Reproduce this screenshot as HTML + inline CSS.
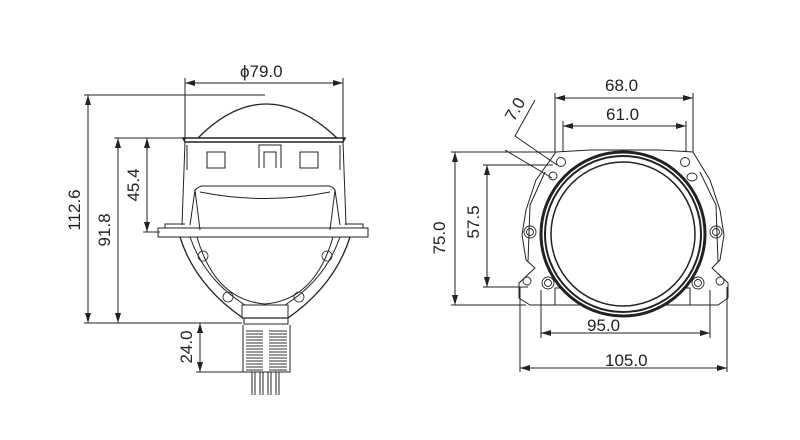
<!DOCTYPE html>
<html><head><meta charset="utf-8"><style>
html,body{margin:0;padding:0;background:#fff;}
svg{display:block;}
text{font-family:"Liberation Sans",sans-serif;font-size:17px;fill:#222;}
</style></head><body>
<svg width="800" height="440" viewBox="0 0 800 440" xmlns="http://www.w3.org/2000/svg">
<defs>
<marker id="a" markerWidth="10" markerHeight="6" refX="10" refY="3" orient="auto-start-reverse" markerUnits="userSpaceOnUse"><path d="M0,0 L10,3 L0,6 z" fill="#222"/></marker>
</defs>
<g stroke="#222" stroke-width="1" fill="none">
<line x1="185" y1="83" x2="343" y2="83" marker-start="url(#a)" marker-end="url(#a)"/>
<line x1="185" y1="78" x2="185" y2="140"/><line x1="343" y1="78" x2="343" y2="140"/>
<line x1="84" y1="95" x2="265" y2="95"/>
<line x1="88" y1="95" x2="88" y2="323" marker-start="url(#a)" marker-end="url(#a)"/>
<line x1="84" y1="323" x2="242" y2="323"/>
<line x1="114" y1="138" x2="185" y2="138"/>
<line x1="118" y1="138" x2="118" y2="323" marker-start="url(#a)" marker-end="url(#a)"/>
<line x1="147" y1="138" x2="147" y2="232" marker-start="url(#a)" marker-end="url(#a)"/>
<line x1="143" y1="232" x2="160" y2="232"/>
<line x1="200" y1="323" x2="200" y2="372" marker-start="url(#a)" marker-end="url(#a)"/>
<line x1="196" y1="372" x2="243" y2="372"/>
<path d="M198,138 Q265,70 337,138" stroke-width="1.3"/>
<path d="M183,138 L345,138 L343,142 L185,142 Z" stroke-width="1.6"/>
<path d="M185,142 L182,225 M343,142 L346,225"/>
<path d="M187,145 L187,170 M340,145 L340,170"/>
<rect x="207" y="152" width="18" height="16"/><rect x="300" y="152" width="18" height="16"/>
<path d="M259,168 L259,145 L281,145 L281,168 M264,168 L264,152 L276,152 L276,168"/>
<path d="M190,225 L195,190 Q200,185 205,186 L325,186 Q332,185 335,190 L340,225"/>
<path d="M200,192 Q265,205 330,192"/>
<path d="M195,190 L200,230 M335,190 L330,230"/>
<rect x="158" y="228" width="210" height="9"/>
<path d="M165,228 L165,224 L185,224 M363,228 L363,224 L345,224"/>
<path d="M180,237 Q195,285 243,318 L288,318 Q335,285 350,237" stroke-width="1.3"/>
<path d="M190,237 Q205,280 245,305 M340,237 Q325,280 285,305"/>
<path d="M197,237 Q215,300 265,304 Q315,300 333,237"/>
<rect x="242" y="305" width="46" height="13"/>
<rect x="244" y="318" width="44" height="6"/>
<g stroke-width="0.8">
<circle cx="203" cy="256" r="5"/><circle cx="327" cy="256" r="5"/>
<circle cx="228" cy="297" r="5"/><circle cx="299" cy="297" r="5"/>
</g>
<path d="M243,325 L243,372 L290,372 L290,325" />
<g stroke-width="1.1" stroke="#333">
<path d="M246,331 H263 M246,334 H263 M246,337 H263 M246,340 H263 M246,343 H263 M246,346 H263 M246,349 H263 M246,352 H263 M246,355 H263 M246,358 H263 M246,361 H263 M246,364 H263 M246,367 H263 M246,370 H263"/>
<path d="M269,331 H287 M269,334 H287 M269,337 H287 M269,340 H287 M269,343 H287 M269,346 H287 M269,349 H287 M269,352 H287 M269,355 H287 M269,358 H287 M269,361 H287 M269,364 H287 M269,367 H287 M269,370 H287"/>
</g>
<path d="M252,372 V395 M255,372 V395 M260,372 V395 M263,372 V395 M268,372 V395 M271,372 V395 M276,372 V395 M279,372 V395"/>
<line x1="555" y1="98" x2="693" y2="98" marker-start="url(#a)" marker-end="url(#a)"/>
<line x1="555" y1="93" x2="555" y2="152"/><line x1="693" y1="93" x2="693" y2="152"/>
<line x1="563" y1="126" x2="686" y2="126" marker-start="url(#a)" marker-end="url(#a)"/>
<line x1="563" y1="121" x2="563" y2="152"/><line x1="686" y1="121" x2="686" y2="152"/>
<line x1="451" y1="152" x2="555" y2="152"/>
<line x1="455" y1="152" x2="455" y2="305" marker-start="url(#a)" marker-end="url(#a)"/>
<line x1="451" y1="305" x2="526" y2="305"/>
<line x1="483" y1="165" x2="553" y2="165"/>
<line x1="487" y1="165" x2="487" y2="287" marker-start="url(#a)" marker-end="url(#a)"/>
<line x1="483" y1="287" x2="528" y2="287"/>
<line x1="520" y1="287" x2="520" y2="372"/><line x1="727" y1="287" x2="727" y2="372"/>
<line x1="520" y1="368" x2="727" y2="368" marker-start="url(#a)" marker-end="url(#a)"/>
<line x1="541" y1="290" x2="541" y2="338"/><line x1="710" y1="290" x2="710" y2="338"/>
<line x1="541" y1="333" x2="710" y2="333" marker-start="url(#a)" marker-end="url(#a)"/>
<path d="M535,100 L515,136 L557,165 M505,150 L552,178"/>
<path d="M556,152 L590,150 L660,150 L693,152 L710,180 L720,210 L724,235 L720,260 L712,268 L728,283 L728,298 L718,305 L530,305 L519,298 L519,283 L535,268 L526,260 L522,235 L526,210 L536,180 Z"/>
<path d="M545,172 L530,205 L528,262 M700,172 L716,205 L718,262"/>
<rect x="555" y="288" width="135" height="17"/>
<circle cx="623" cy="234" r="82" fill="#fff" stroke-width="3"/>
<circle cx="623" cy="234" r="78" stroke-width="2"/>
<circle cx="623" cy="234" r="72" stroke-width="1.5"/>
<g stroke-width="0.9">
<circle cx="561" cy="162" r="4.5"/><circle cx="685" cy="162" r="4.5"/>
<circle cx="553" cy="176" r="4"/><ellipse cx="692" cy="177" rx="5" ry="4"/>
<circle cx="530" cy="232" r="6"/><circle cx="530" cy="232" r="3.5"/>
<circle cx="716" cy="232" r="6"/><circle cx="716" cy="232" r="3.5"/>
<circle cx="548" cy="283" r="6"/><circle cx="548" cy="283" r="3.5"/>
<circle cx="698" cy="283" r="6"/><circle cx="698" cy="283" r="3.5"/>
<circle cx="527" cy="281" r="4"/><circle cx="720" cy="281" r="4"/>
</g>
</g>
<text x="240" y="77">ϕ79.0</text>
<text x="605" y="91">68.0</text>
<text x="606" y="120">61.0</text>
<text x="587" y="331">95.0</text>
<text x="605" y="366">105.0</text>
<text transform="translate(80,210) rotate(-90)" text-anchor="middle">112.6</text>
<text transform="translate(110,230) rotate(-90)" text-anchor="middle">91.8</text>
<text transform="translate(139,185) rotate(-90)" text-anchor="middle">45.4</text>
<text transform="translate(192,347) rotate(-90)" text-anchor="middle">24.0</text>
<text transform="translate(445,238) rotate(-90)" text-anchor="middle">75.0</text>
<text transform="translate(479,222) rotate(-90)" text-anchor="middle">57.5</text>
<text transform="translate(520,112) rotate(-60)" text-anchor="middle">7.0</text>
</svg>
</body></html>
